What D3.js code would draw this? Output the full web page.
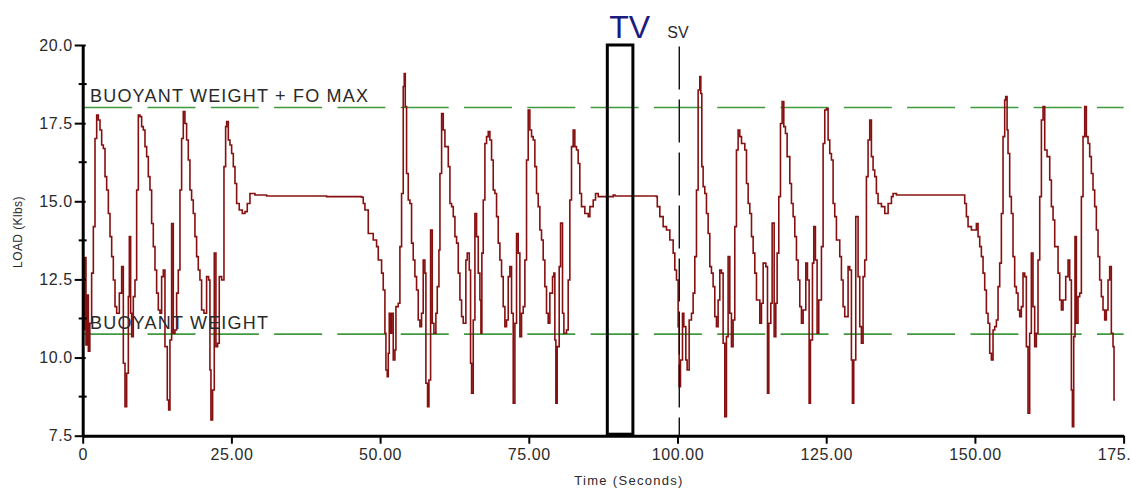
<!DOCTYPE html>
<html><head><meta charset="utf-8">
<script src="https://cdn.jsdelivr.net/npm/d3@7"></script>
<style>body{margin:0;background:#fff}svg{display:block}</style>
</head><body><svg id="c" width="1131" height="488"></svg>
<script>
// ---- data (seconds, Klbs) ----
const time = [
0,0.15,0.35,0.55,0.75,0.95,1.2,1.5,
1.79,2.07,2.35,2.63,2.91,3.19,3.47,3.75,4.03,4.31,4.59,4.87,5.15,5.43,5.71,
6.16,6.55,6.83,7.11,7.39,7.67,7.84,8.06,8.23,8.51,
8.79,9.07,9.35,9.63,9.91,10.19,10.47,10.75,11.03,11.31,11.59,11.87,12.15,12.43,12.71,
12.99,13.27,13.55,13.83,14.22,14.45,14.67,14.95,15.23,15.51,15.79,
16.07,16.35,16.63,16.91,17.19,17.47,17.75,18.03,18.31,18.59,18.87,19.15,19.43,19.71,19.99,20.39,
20.83,21.17,21.39,21.56,21.84,22.12,22.4,22.68,22.96,23.36,
23.75,24.03,24.2,24.48,24.76,25.04,25.32,25.6,25.88,26.32,26.83,27.28,27.67,28.12,28.96,30.92,41.0,46.9,
47.17,47.45,48.01,48.85,49.41,49.69,50.25,50.53,50.81,50.98,51.2,51.37,51.54,51.76,51.93,52.21,52.49,52.66,53.05,
53.33,53.61,53.89,54.06,54.23,54.45,54.73,55.01,55.29,55.57,55.85,56.13,56.41,56.69,56.97,
57.25,57.53,57.7,57.98,58.21,58.49,58.77,59.05,59.38,59.61,
59.89,60.06,60.34,60.62,60.9,61.18,61.46,61.74,62.02,62.3,62.58,62.86,63.14,63.42,63.7,63.98,
64.42,64.65,64.99,65.21,65.38,65.66,65.94,66.22,66.5,66.78,66.95,
67.11,67.34,67.62,67.9,68.18,68.46,68.74,69.02,69.3,69.58,69.86,70.14,70.42,70.7,70.98,
71.26,71.54,71.82,72.1,72.38,72.66,72.94,73.22,73.5,73.78,74.06,74.34,
74.62,74.9,75.18,75.46,75.74,76.02,76.3,76.58,76.86,77.14,77.42,77.7,77.98,78.26,
78.54,78.99,79.21,79.38,79.55,79.77,80.11,80.34,80.67,80.9,81.34,
81.62,81.9,82.18,82.46,82.74,83.02,83.3,83.58,83.86,84.42,84.99,85.27,85.83,86.22,86.67,89.19,89.5,96.47,
96.6,97.03,97.59,98.15,98.71,99.27,99.55,99.83,100.11,100.28,100.5,100.84,101.06,101.4,101.62,101.96,102.35,102.63,
102.91,103.19,103.47,103.75,103.92,104.09,104.31,104.59,104.87,105.15,105.43,105.71,105.99,106.27,106.55,
106.83,107.11,107.39,107.67,107.95,108.23,108.51,108.79,109.07,109.35,
109.63,109.91,110.19,110.47,110.76,111.32,111.6,111.88,112.16,112.44,112.72,113.0,113.28,113.84,
114.12,114.4,114.85,115.13,115.35,115.69,115.91,116.25,116.53,
116.75,117.03,117.31,117.59,117.87,118.15,118.43,118.88,119.16,119.44,119.72,120.0,120.28,120.56,120.84,
121.12,121.57,121.85,122.13,122.35,122.69,122.91,123.19,123.47,123.75,124.2,
124.48,124.76,125.04,125.32,125.6,125.88,126.16,126.44,126.72,127.28,127.56,127.84,128.12,
128.68,128.96,129.24,129.41,129.63,129.97,130.36,130.64,130.92,131.2,131.48,
131.76,132.04,132.32,132.6,132.88,133.16,133.44,133.72,134.29,134.85,135.41,135.97,136.25,136.81,
148.29,148.57,148.85,149.41,150.25,150.53,150.81,151.09,151.37,151.65,151.93,152.21,152.49,152.77,153.05,153.33,153.61,153.89,154.17,154.45,
154.73,155.01,155.18,155.41,155.57,155.85,156.13,156.41,156.69,156.97,157.25,157.53,157.81,
158.09,158.37,158.65,158.93,159.21,159.49,159.77,160.05,160.33,160.61,
160.9,161.18,161.46,161.74,162.13,162.58,162.86,163.14,163.42,163.98,164.26,164.54,164.82,
165.27,165.66,165.94,166.22,166.39,166.61,166.83,167.06,167.34,167.62,
167.9,168.18,168.46,168.74,169.02,169.3,169.58,169.86,170.14,170.42,170.7,170.98,171.26,171.54,171.82,172.1,172.38,172.66,172.94,173.22,173.39,173.56
];
const load = [
12.6,10.9,13.2,10.4,12.0,10.2,11.1,12.7,
14.19,17.01,17.76,17.6,17.28,16.8,16.69,15.79,15.36,14.61,13.87,13.23,12.48,11.63,11.42,
12.06,12.91,9.82,8.43,9.5,11.95,13.87,11.42,10.67,11.95,
12.48,15.36,17.76,17.71,17.39,17.28,16.75,16.43,15.79,15.36,14.29,13.55,12.8,12.06,11.52,
11.42,12.59,12.8,10.35,8.64,8.32,10.56,14.29,10.78,10.88,12.06,
12.8,15.36,17.01,17.87,17.49,16.96,16.32,15.36,15.04,14.61,13.87,13.23,12.8,12.48,11.52,11.42,
12.59,12.48,9.6,8.0,8.96,13.34,10.35,10.46,12.59,12.48,
16.11,17.39,17.55,16.96,16.8,16.53,16.11,15.57,14.93,14.72,14.61,14.67,14.93,15.25,15.2,15.17,15.15,15.13,
14.93,14.72,13.97,13.76,13.55,13.12,12.7,12.16,10.78,9.6,9.39,10.14,11.42,10.78,11.42,9.92,10.24,11.63,11.74,
13.55,15.25,18.67,19.09,18.03,15.89,15.04,14.93,13.66,13.12,12.59,12.16,11.2,10.99,11.42,
13.12,12.7,9.18,8.43,9.28,14.08,11.1,10.78,11.42,12.27,
13.44,15.89,17.81,17.28,16.75,16.75,16.11,14.93,14.83,14.51,13.87,13.66,12.7,11.84,11.31,11.1,
13.12,13.34,12.8,9.82,8.86,11.2,14.61,13.87,12.7,11.84,10.78,
13.34,15.04,16.85,17.07,17.23,16.96,16.32,15.36,15.25,14.51,13.66,13.12,12.59,11.63,10.99,
11.2,12.59,12.91,11.42,8.54,11.1,13.97,13.34,10.67,11.42,11.63,13.12,
16.32,17.92,17.28,17.07,16.96,16.11,15.25,14.83,14.08,13.76,13.12,12.27,11.42,11.1,
12.06,12.59,12.7,10.56,8.54,10.35,12.91,14.3,11.42,10.78,10.88,
12.48,15.04,16.75,17.28,16.75,16.64,16.21,15.25,14.83,14.61,14.51,14.83,15.04,15.25,15.15,15.2,15.17,15.15,
14.83,14.51,14.19,14.08,13.76,13.34,12.8,12.48,10.99,9.07,9.92,11.42,10.99,9.92,9.6,11.2,11.42,12.06,
13.23,15.36,18.56,18.99,18.45,16.11,15.47,15.25,14.61,13.97,12.91,12.7,12.27,11.31,10.99,
11.84,12.8,12.7,10.46,8.11,10.67,13.23,11.42,10.35,11.2,
14.19,16.64,17.28,17.07,16.85,16.64,15.57,14.93,14.61,13.87,13.34,12.7,11.84,11.1,
11.74,13.02,12.91,8.86,11.1,11.74,14.3,10.67,11.74,
13.34,15.15,17.49,18.19,17.39,17.17,16.43,15.57,14.93,14.51,13.87,13.12,12.48,11.63,11.1,
11.52,13.02,12.48,8.54,10.56,13.02,14.19,13.12,10.78,11.84,13.55,
16.85,17.92,17.97,16.96,16.53,16.32,14.93,14.51,13.76,13.23,12.48,11.63,11.31,
12.91,12.8,9.92,8.54,9.92,14.51,12.59,10.99,10.46,12.59,13.12,
15.79,16.96,17.6,16.43,16.0,15.79,15.25,14.93,14.83,14.61,14.93,15.15,15.25,15.2,
14.93,14.51,14.19,14.08,14.29,13.87,13.55,13.23,12.7,12.16,11.42,11.1,10.14,9.92,10.88,10.99,11.2,12.27,13.02,14.61,
17.07,18.24,18.35,17.28,16.53,15.15,14.61,13.23,12.27,12.06,11.52,11.31,11.63,
12.7,12.59,10.35,8.22,10.78,13.34,11.63,10.35,10.78,13.12,
15.15,17.6,18.03,16.64,16.43,15.68,14.83,14.4,13.55,12.7,11.84,11.52,11.84,
12.59,13.12,12.48,8.96,7.79,10.67,13.87,11.1,11.95,12.06,
15.15,17.07,18.03,17.07,16.85,16.43,15.89,15.36,14.83,14.08,13.23,12.48,11.95,11.52,11.2,11.52,12.48,12.91,10.78,10.35,8.64,8.64
];
const xTickValues = [0,25,50,75,100,125,150,175];
const xTickLabels = ["0","25.00","50.00","75.00","100.00","125.00","150.00","175.00"];
const yTickValues = [7.5,10,12.5,15,17.5,20];
const yTickLabels = ["7.5","10.0","12.5","15.0","17.5","20.0"];
const yMinorTicks = [8.75,11.25,13.75,16.25,18.75];
const refLevels = [18.0, 10.75];
const refLabels = ["BUOYANT WEIGHT + FO MAX","BUOYANT WEIGHT"];
const tvWindow = [88.2, 92.5];
const svTime = 100.3;

// ---- layout ----
const svg = d3.select("#c");
const X0 = 82.7, X1 = 1123.6, Y0 = 435.7, Y1 = 45;
const x = d3.scaleLinear().domain([0,175]).range([X0,X1]);
const y = d3.scaleLinear().domain([7.5,20]).range([Y0,Y1]);
const FONT = "'Liberation Sans', Arial, sans-serif";
const TXT = "#2a2a2a";

// reference dashed lines
svg.append("g").selectAll("line").data(refLevels).join("line")
  .attr("x1", X0+1.5).attr("x2", X1).attr("y1", d=>y(d)).attr("y2", d=>y(d))
  .attr("stroke","#3f9a3f").attr("stroke-width",1.6).attr("stroke-dasharray","48,15.3");

// load trace
const n = Math.min(time.length, load.length);
const line = d3.line().x(i=>x(time[i])).y(i=>y(load[i])).curve(d3.curveStepAfter);
svg.append("path").attr("d", line(d3.range(n)))
  .attr("fill","none").attr("stroke","#861010").attr("stroke-width",1.6)
  .attr("stroke-linejoin","miter");

// axes
const yAxis = d3.axisLeft(y).tickValues(yTickValues)
  .tickFormat((d,i)=>yTickLabels[i]).tickSizeInner(8).tickSizeOuter(0).tickPadding(2);
const gy = svg.append("g").attr("transform",`translate(${X0},0)`).call(yAxis);
gy.select(".domain").attr("stroke","#000").attr("stroke-width",3);
gy.selectAll(".tick line").attr("stroke","#000").attr("stroke-width",2).attr("x2",-8).attr("x1",3);
gy.selectAll(".tick text").attr("font-family",FONT).attr("font-size",16).attr("fill",TXT)
  .attr("letter-spacing","0.6px");
svg.append("g").selectAll("line").data(yMinorTicks).join("line")
  .attr("x1",X0-4).attr("x2",X0+4).attr("y1",d=>y(d)).attr("y2",d=>y(d))
  .attr("stroke","#000").attr("stroke-width",2);

const xAxis = d3.axisBottom(x).tickValues(xTickValues)
  .tickFormat((d,i)=>xTickLabels[i]).tickSizeInner(8).tickSizeOuter(0).tickPadding(5);
const gx = svg.append("g").attr("transform",`translate(0,${Y0})`).call(xAxis);
gx.select(".domain").attr("stroke","#000").attr("stroke-width",3);
gx.selectAll(".tick line").attr("stroke","#000").attr("stroke-width",2);
gx.selectAll(".tick text").attr("font-family",FONT).attr("font-size",16).attr("fill",TXT)
  .attr("letter-spacing","0.6px");

// axis titles
svg.append("text").attr("x",629).attr("y",485).attr("text-anchor","middle")
  .attr("font-family",FONT).attr("font-size",13).attr("letter-spacing","1.3px").attr("fill",TXT)
  .text("Time (Seconds)");
svg.append("text").attr("transform","translate(22,232) rotate(-90)").attr("text-anchor","middle")
  .attr("font-family",FONT).attr("font-size",12).attr("letter-spacing","0.4px").attr("fill",TXT)
  .text("LOAD (Klbs)");

// reference labels
svg.append("g").selectAll("text").data(refLevels).join("text")
  .attr("x",90).attr("y",d=>y(d)-5.5)
  .attr("font-family",FONT).attr("font-size",18).attr("letter-spacing","1.2px").attr("fill",TXT)
  .text((d,i)=>refLabels[i]);

// TV window
svg.append("rect").attr("x",x(tvWindow[0])).attr("y",y(20))
  .attr("width",x(tvWindow[1])-x(tvWindow[0])).attr("height",y(7.5)-y(20)-1.5)
  .attr("fill","none").attr("stroke","#000").attr("stroke-width",3);
svg.append("text").attr("x",x(tvWindow[0])+2).attr("y",38)
  .attr("font-family",FONT).attr("font-size",32).attr("fill","#1c1c80").text("TV");

// SV marker
svg.append("line").attr("x1",x(svTime)).attr("x2",x(svTime)).attr("y1",y(19.95)).attr("y2",Y0)
  .attr("stroke","#111").attr("stroke-width",1.4).attr("stroke-dasharray","43,10");
svg.append("text").attr("x",x(svTime)-12).attr("y",38)
  .attr("font-family",FONT).attr("font-size",16).attr("fill",TXT).text("SV");
</script></body></html>
